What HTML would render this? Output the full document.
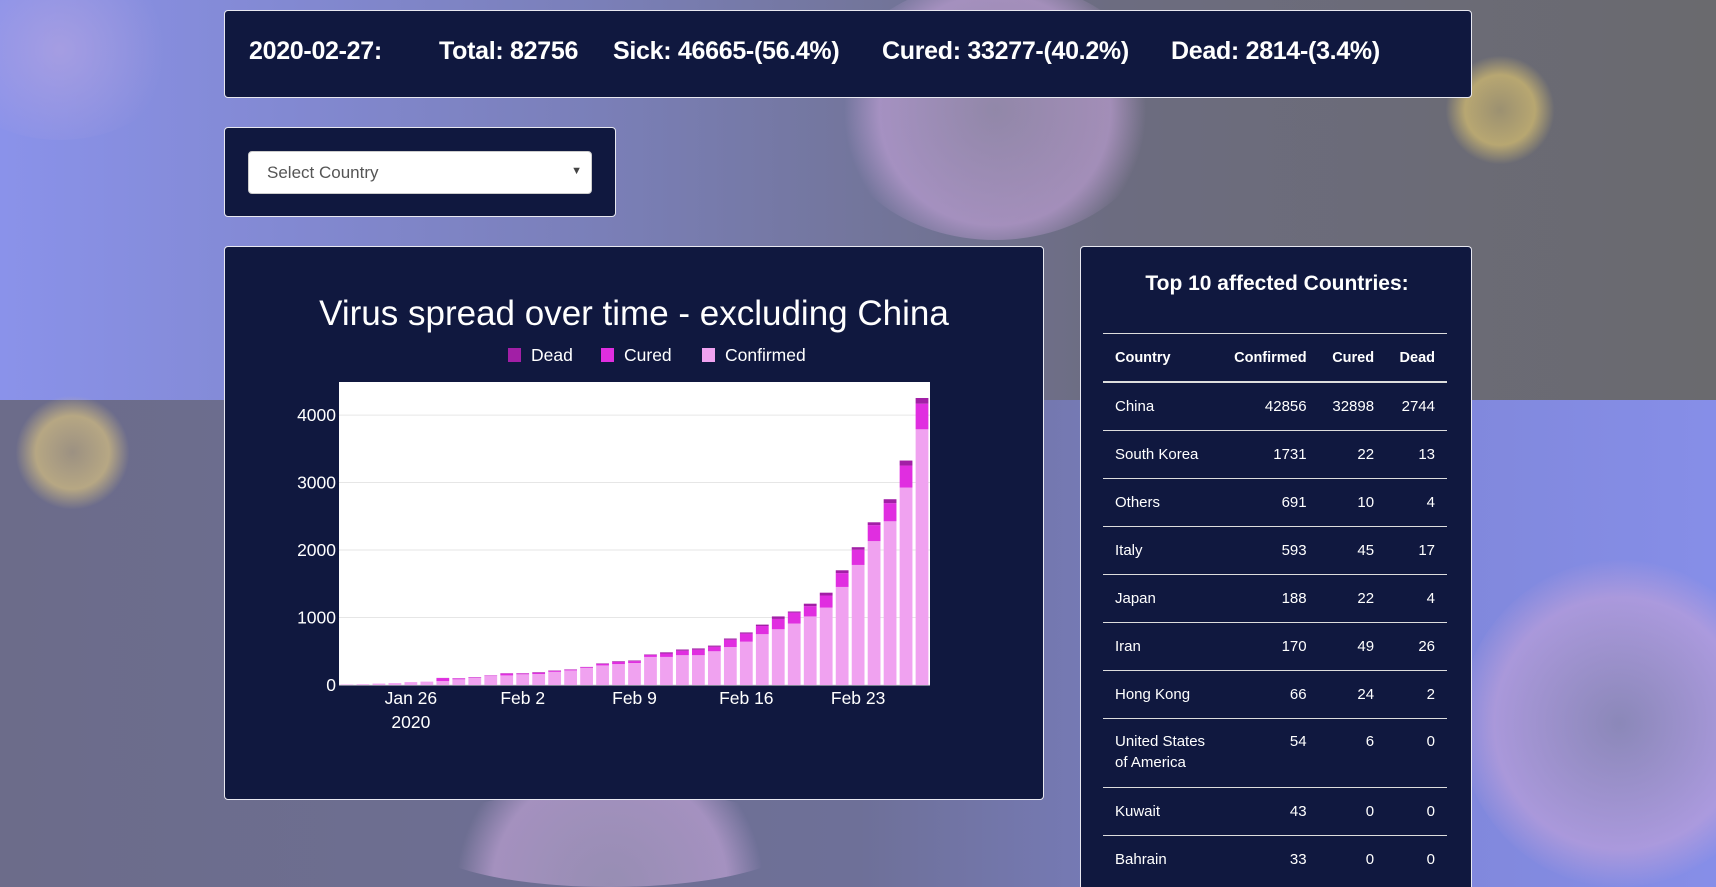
<!DOCTYPE html>
<html><head><meta charset="utf-8"><style>
html,body{margin:0;padding:0;width:1716px;height:887px;overflow:hidden;font-family:"Liberation Sans",sans-serif}
#bg{position:absolute;left:0;top:0;width:1716px;height:887px;overflow:hidden}
.band1{position:absolute;left:0;top:0;width:1716px;height:400px;background:linear-gradient(90deg,#8a92ea 0%,#7a7fb8 35%,#6c6c80 65%,#6a6a6e 100%)}
.band2{position:absolute;left:0;top:400px;width:1716px;height:487px;background:linear-gradient(90deg,#6c6c8a 0%,#6e7098 50%,#7f86d8 80%,#868ee8 100%)}
.blob{position:absolute;border-radius:50%}
.card{position:absolute;background:#10183f;border:1px solid #e8e8f0;border-radius:4px;box-sizing:border-box}
.stat{position:absolute;top:26px;color:#fff;font-weight:bold;font-size:25px;white-space:nowrap;letter-spacing:-0.3px}
table{position:absolute;left:22px;top:86px;width:344px;border-collapse:collapse;color:#fff;font-size:15px}
th{font-size:14.5px;font-weight:bold;height:47px;border-top:1px solid #ddd;border-bottom:2px solid #ddd;padding:0 12px}
td{height:47px;border-bottom:1px solid #ddd;padding:0 12px;vertical-align:middle}
td.n,th.n{text-align:right}
td.l,th.l{text-align:left}
tr.tall td{height:56px;vertical-align:top;padding-top:12px;padding-bottom:0;line-height:21px}
</style></head><body>
<div id="bg">
<div class="band1"></div><div class="band2"></div>
<div class="blob" style="left:830px;top:-20px;width:330px;height:260px;background:radial-gradient(circle,rgba(160,145,180,0.7) 0%,rgba(199,164,220,0.6) 55%,rgba(200,160,230,0) 72%)"></div>
<div class="blob" style="left:1460px;top:560px;width:320px;height:327px;background:radial-gradient(circle,rgba(142,134,166,0.7) 0%,rgba(196,162,216,0.6) 55%,rgba(200,160,230,0) 72%)"></div>
<div class="blob" style="left:420px;top:790px;width:380px;height:97px;background:radial-gradient(circle at 50% 100%,rgba(168,154,192,0.7) 0%,rgba(201,168,220,0.6) 55%,rgba(200,160,230,0) 72%)"></div>
<div class="blob" style="left:-60px;top:-40px;width:240px;height:180px;background:radial-gradient(circle,rgba(184,166,224,0.6) 0%,rgba(190,170,230,0) 70%)"></div>
<div class="blob" style="left:1445px;top:55px;width:110px;height:110px;background:radial-gradient(circle,rgba(168,154,112,0.8) 0%,rgba(216,192,112,0.7) 45%,rgba(210,190,110,0) 70%)"></div>
<div class="blob" style="left:15px;top:395px;width:115px;height:115px;background:radial-gradient(circle,rgba(168,154,128,0.8) 0%,rgba(214,192,128,0.7) 45%,rgba(210,190,110,0) 70%)"></div>
</div>

<div class="card" style="left:224px;top:10px;width:1248px;height:88px">
<div class="stat" style="left:24px">2020-02-27:</div>
<div class="stat" style="left:214px">Total: 82756</div>
<div class="stat" style="left:388px">Sick: 46665-(56.4%)</div>
<div class="stat" style="left:657px">Cured: 33277-(40.2%)</div>
<div class="stat" style="left:946px">Dead: 2814-(3.4%)</div>
</div>

<div class="card" style="left:224px;top:127px;width:392px;height:90px">
<div style="position:absolute;left:23px;top:23px;width:344px;height:43px;background:#fff;border-radius:4px;border:1px solid #ccc;box-sizing:border-box">
<span style="position:absolute;left:18px;top:11px;font-size:17px;color:#555">Select Country</span>
<span style="position:absolute;right:9px;top:13px;font-size:11px;color:#444">▼</span>
</div></div>

<div class="card" style="left:224px;top:246px;width:820px;height:554px">
<svg id="chart" width="820" height="554" style="position:absolute;left:-1px;top:-1px"></svg>
</div>

<div class="card" style="left:1080px;top:246px;width:392px;height:641px;border-bottom:none;border-radius:4px 4px 0 0;overflow:hidden">
<div style="position:absolute;left:0;width:392px;top:25px;text-align:center;color:#fff;font-weight:bold;font-size:21px">Top 10 affected Countries:</div>
<table>
<tr><th class="l">Country</th><th class="n">Confirmed</th><th class="n">Cured</th><th class="n">Dead</th></tr>
<tr><td class="l">China</td><td class="n">42856</td><td class="n">32898</td><td class="n">2744</td></tr>
<tr><td class="l">South Korea</td><td class="n">1731</td><td class="n">22</td><td class="n">13</td></tr>
<tr><td class="l">Others</td><td class="n">691</td><td class="n">10</td><td class="n">4</td></tr>
<tr><td class="l">Italy</td><td class="n">593</td><td class="n">45</td><td class="n">17</td></tr>
<tr><td class="l">Japan</td><td class="n">188</td><td class="n">22</td><td class="n">4</td></tr>
<tr><td class="l">Iran</td><td class="n">170</td><td class="n">49</td><td class="n">26</td></tr>
<tr><td class="l">Hong Kong</td><td class="n">66</td><td class="n">24</td><td class="n">2</td></tr>
<tr class="tall"><td class="l">United States<br>of America</td><td class="n">54</td><td class="n">6</td><td class="n">0</td></tr>
<tr><td class="l">Kuwait</td><td class="n">43</td><td class="n">0</td><td class="n">0</td></tr>
<tr><td class="l" style="border-bottom:none">Bahrain</td><td class="n" style="border-bottom:none">33</td><td class="n" style="border-bottom:none">0</td><td class="n" style="border-bottom:none">0</td></tr>
</table>
</div>

<script>
const days = ["Jan 22","Jan 23","Jan 24","Jan 25","Jan 26","Jan 27","Jan 28","Jan 29","Jan 30","Jan 31","Feb 1","Feb 2","Feb 3","Feb 4","Feb 5","Feb 6","Feb 7","Feb 8","Feb 9","Feb 10","Feb 11","Feb 12","Feb 13","Feb 14","Feb 15","Feb 16","Feb 17","Feb 18","Feb 19","Feb 20","Feb 21","Feb 22","Feb 23","Feb 24","Feb 25","Feb 26","Feb 27"];
const confirmed = [7,11,21,28,43,50,58,84,105,132,142,158,163,195,216,253,290,310,326,416,416,442,442,500,563,642,753,826,911,1016,1147,1453,1779,2132,2426,2926,3789];
const cured = [0,0,0,0,0,0,45,14,8,8,28,12,20,16,12,12,24,34,28,30,50,66,82,66,108,119,121,153,162,152,179,205,226,237,269,326,380];
const dead = [0,0,0,0,0,0,2,2,3,2,4,4,7,5,4,3,7,9,9,7,18,18,18,18,18,18,21,37,16,37,42,42,37,42,58,74,84];
const yTicks = [0,1000,2000,3000,4000];
const xTickIdx = [4,11,18,25,32];
const xTickLabels = ["Jan 26","Feb 2","Feb 9","Feb 16","Feb 23"];

const NS="http://www.w3.org/2000/svg";
const svg=document.getElementById('chart');
const PL=115,PR=706,PT=136,PB=439;
const yMax=4490;
function y(v){return PB-(v/yMax)*(PB-PT);}
const step=(PR-PL)/days.length;
function xc(i){return PL+step*(i+0.5);}
function mk(tag,attrs){const e=document.createElementNS(NS,tag);for(const k in attrs)e.setAttribute(k,attrs[k]);svg.appendChild(e);return e;}

const title=mk('text',{x:410,y:79,'text-anchor':'middle',fill:'#fff','font-size':'35','font-family':'Liberation Sans, sans-serif'});
title.textContent='Virus spread over time - excluding China';



const legend=[["Dead","#a21fa6",284],["Cured","#e02ee0",377],["Confirmed","#f0a2f0",478]];
legend.forEach(l=>{
  const r=mk('rect',{x:l[2],y:102,width:13,height:14,fill:l[1]});
  
  
  const t=mk('text',{x:l[2]+23,y:115,fill:'#fff','font-size':'17.5','font-family':'Liberation Sans, sans-serif'});
  t.textContent=l[0];
  
  
});

const bg=mk('rect',{x:PL,y:PT,width:PR-PL,height:PB-PT,fill:'#fff'});



yTicks.forEach(v=>{
  const g=mk('line',{x1:PL,x2:PR,y1:y(v),y2:y(v),stroke:'#e6e6e6','stroke-width':1});
  
  
  const t=mk('text',{x:PL-3,y:y(v)+6,'text-anchor':'end',fill:'#fff','font-size':'17.5','font-family':'Liberation Sans, sans-serif'});
  t.textContent=v;
  
  
});

const bw=step*0.8;
days.forEach((d,i)=>{
  const segs=[[0,confirmed[i],'#f0a2f0','confirmed'],[confirmed[i],confirmed[i]+cured[i],'#e02ee0','cured'],[confirmed[i]+cured[i],confirmed[i]+cured[i]+dead[i],'#a21fa6','dead']];
  segs.forEach(s=>{
    if(s[1]<=s[0])return;
    const r=mk('rect',{x:xc(i)-bw/2,y:y(s[1]),width:bw,height:y(s[0])-y(s[1]),fill:s[2]});
    
    
  });
});

xTickIdx.forEach((idx,k)=>{
  const t=mk('text',{x:xc(idx),y:458,'text-anchor':'middle',fill:'#fff','font-size':'17.5','font-family':'Liberation Sans, sans-serif'});
  t.textContent=xTickLabels[k];
  
  
});
const yr=mk('text',{x:xc(xTickIdx[0]),y:482,'text-anchor':'middle',fill:'#fff','font-size':'17.5','font-family':'Liberation Sans, sans-serif'});
yr.textContent='2020';


</script>
</body></html>
